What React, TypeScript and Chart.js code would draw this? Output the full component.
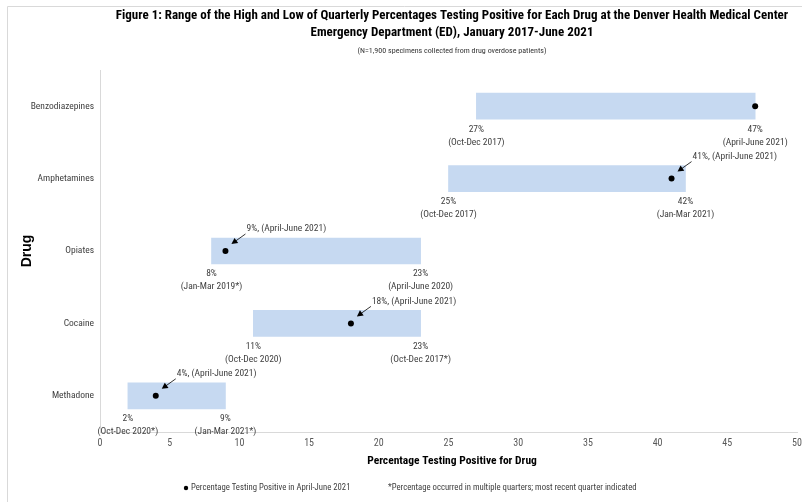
import React, { useEffect, useRef } from 'react';
import { Chart, registerables } from 'chart.js';

Chart.register(...registerables);

const NARROW = "'Liberation Sans Narrow', 'Arial Narrow', 'Roboto Condensed', sans-serif";

const titleLines = [
  'Figure 1: Range of the High and Low of Quarterly Percentages Testing Positive for Each Drug at the Denver Health Medical Center',
  'Emergency Department (ED), January 2017-June 2021',
];
const subtitle = '(N=1,900 specimens collected from drug overdose patients)';
const xAxisTitle = 'Percentage Testing Positive for Drug';
const yAxisTitle = 'Drug';
const legendDot = 'Percentage Testing Positive in April-June 2021';
const legendNote = '*Percentage occurred in multiple quarters; most recent quarter indicated';
const currentQuarter = '(April-June 2021)';

const drugs = ['Benzodiazepines', 'Amphetamines', 'Opiates', 'Cocaine', 'Methadone'];
const lowValues = [27, 25, 8, 11, 2];
const highValues = [47, 42, 23, 23, 9];
const aprJun2021 = [47, 41, 9, 18, 4];
const lowQuarters = ['(Oct-Dec 2017)', '(Oct-Dec 2017)', '(Jan-Mar 2019*)', '(Oct-Dec 2020)', '(Oct-Dec 2020*)'];
const highQuarters = ['(April-June 2021)', '(Jan-Mar 2021)', '(April-June 2020)', '(Oct-Dec 2017*)', '(Jan-Mar 2021*)'];
const xMin = 0;
const xMax = 50;
const xStep = 5;

const annotationPlugin = {
  id: 'annotations',
  afterDraw(chart: any) {
    const ctx = chart.ctx as CanvasRenderingContext2D;
    const xs = chart.scales.x;
    const ys = chart.scales.y;
    const barMeta = chart.getDatasetMeta(0);
    ctx.save();

    // frame
    ctx.strokeStyle = '#d9d9d9';
    ctx.lineWidth = 1;
    ctx.beginPath();
    ctx.moveTo(7.5, 502);
    ctx.lineTo(7.5, 6.5);
    ctx.lineTo(802, 6.5);
    ctx.stroke();

    // titles
    ctx.textAlign = 'center';
    ctx.textBaseline = 'middle';
    ctx.fillStyle = '#000';
    ctx.font = `bold 13px ${NARROW}`;
    ctx.fillText(titleLines[0], 452, 16);
    ctx.fillText(titleLines[1], 452, 33);
    ctx.font = `8px ${NARROW}`;
    ctx.fillStyle = '#333';
    ctx.fillText(subtitle, 452, 51);

    // axis titles
    ctx.fillStyle = '#000';
    ctx.font = `bold 11.5px ${NARROW}`;
    ctx.fillText(xAxisTitle, 452, 461);
    ctx.save();
    ctx.translate(27, 251);
    ctx.rotate(-Math.PI / 2);
    ctx.font = `bold 14px 'Liberation Sans', Arial, sans-serif`;
    ctx.fillText(yAxisTitle, 0, 0);
    ctx.restore();

    // bar end labels and callouts
    ctx.font = `9.5px ${NARROW}`;
    ctx.fillStyle = '#404040';
    drugs.forEach((_, i) => {
      const el = barMeta.data[i];
      const bottom = el.y + el.height / 2;
      const xl = xs.getPixelForValue(lowValues[i]);
      const xh = xs.getPixelForValue(highValues[i]);
      ctx.textAlign = 'center';
      ctx.fillText(`${lowValues[i]}%`, xl, bottom + 10);
      ctx.fillText(lowQuarters[i], xl, bottom + 23);
      ctx.fillText(`${highValues[i]}%`, xh, bottom + 10);
      ctx.fillText(highQuarters[i], xh, bottom + 23);

      if (aprJun2021[i] !== highValues[i]) {
        const px = xs.getPixelForValue(aprJun2021[i]);
        const py = ys.getPixelForValue(i);
        ctx.textAlign = 'left';
        ctx.fillText(`${aprJun2021[i]}%, ${currentQuarter}`, px + 21, py - 22);
        const sx = px + 20;
        const sy = py - 17;
        const tx = px + 6;
        const ty = py - 7;
        const ang = Math.atan2(ty - sy, tx - sx);
        ctx.strokeStyle = '#000';
        ctx.lineWidth = 0.8;
        ctx.beginPath();
        ctx.moveTo(sx, sy);
        ctx.lineTo(tx - 4 * Math.cos(ang), ty - 4 * Math.sin(ang));
        ctx.stroke();
        ctx.fillStyle = '#000';
        ctx.beginPath();
        ctx.moveTo(tx, ty);
        ctx.lineTo(tx - 6 * Math.cos(ang) + 3.2 * Math.sin(ang), ty - 6 * Math.sin(ang) - 3.2 * Math.cos(ang));
        ctx.lineTo(tx - 6 * Math.cos(ang) - 3.2 * Math.sin(ang), ty - 6 * Math.sin(ang) + 3.2 * Math.cos(ang));
        ctx.closePath();
        ctx.fill();
        ctx.fillStyle = '#404040';
      }
    });

    // legend
    ctx.fillStyle = '#000';
    ctx.beginPath();
    ctx.arc(186, 488, 2.2, 0, Math.PI * 2);
    ctx.fill();
    ctx.fillStyle = '#404040';
    ctx.textAlign = 'left';
    ctx.font = `8.7px ${NARROW}`;
    ctx.fillText(legendDot, 191, 488);
    ctx.fillText(legendNote, 388, 488);

    ctx.restore();
  },
};

export default function App() {
  const ref = useRef<HTMLCanvasElement | null>(null);

  useEffect(() => {
    document.body.style.margin = '0';
    if (!ref.current) return;
    const chart = new Chart(ref.current, {
      type: 'bar',
      data: {
        labels: drugs,
        datasets: [
          {
            type: 'bar',
            label: 'Range',
            data: lowValues.map((l, i) => [l, highValues[i]]) as any,
            backgroundColor: '#C6D9F1',
            borderWidth: 0,
            barThickness: 26,
            order: 2,
          },
          {
            type: 'line',
            label: legendDot,
            data: aprJun2021,
            showLine: false,
            pointRadius: 3,
            pointBackgroundColor: '#000',
            pointBorderColor: '#000',
            pointBorderWidth: 0,
            indexAxis: 'y',
            order: 1,
          } as any,
        ],
      },
      options: {
        indexAxis: 'y',
        animation: false,
        responsive: false,
        layout: { padding: { top: 70, right: 5, left: 0, bottom: 0 } },
        plugins: {
          legend: { display: false },
          tooltip: { enabled: false },
          title: { display: false },
        },
        scales: {
          x: {
            type: 'linear',
            min: xMin,
            max: xMax,
            ticks: { stepSize: xStep, color: '#595959', font: { family: NARROW, size: 10 }, padding: 5 },
            grid: { display: true, drawOnChartArea: false, drawTicks: false },
            border: { display: true, color: '#d9d9d9', width: 1 },
            afterFit: (s: any) => { s.height = 70; s.paddingRight = 0; s.paddingLeft = 0; },
          },
          y: {
            type: 'category',
            offset: true,
            ticks: { color: '#404040', font: { family: NARROW, size: 9.5 }, padding: 6 },
            grid: { display: true, drawOnChartArea: false, drawTicks: false },
            border: { display: true, color: '#d9d9d9', width: 1 },
            afterFit: (s: any) => { s.width = 100; s.paddingTop = 0; s.paddingBottom = 0; },
          },
        },
      },
      plugins: [annotationPlugin],
    });
    return () => chart.destroy();
  }, []);

  return (
    <div style={{ width: 802, height: 502 }}>
      <canvas ref={ref} width={802} height={502} style={{ display: 'block' }} />
    </div>
  );
}
